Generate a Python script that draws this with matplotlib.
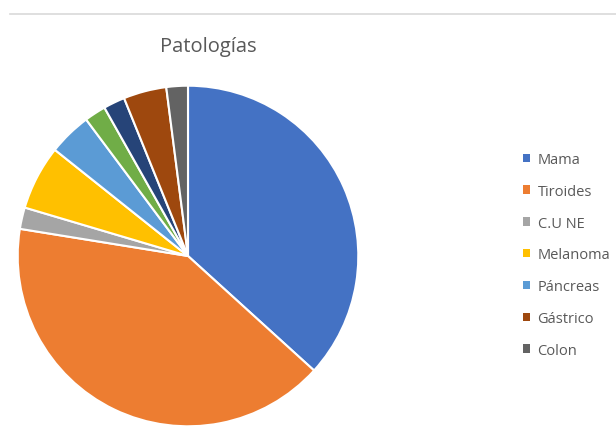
import matplotlib
matplotlib.use("Agg")
import matplotlib.pyplot as plt
from matplotlib.patches import Patch
from matplotlib.lines import Line2D

categories = ["Mama", "Tiroides", "C.U NE", "Melanoma", "Páncreas", "", "", "Gástrico", "Colon"]
values = [18, 20, 1, 3, 2, 1, 1, 2, 1]
colors = ["#4472C4", "#ED7D31", "#A5A5A5", "#FFC000", "#5B9BD5", "#70AD47", "#264478", "#9E480E", "#636363"]
legend_labels = ["Mama", "Tiroides", "C.U NE", "Melanoma", "Páncreas", "Gástrico", "Colon"]

plt.rcParams['font.family'] = ['Open Sans', 'DejaVu Sans']
W, H = 616, 435
fig = plt.figure(figsize=(W / 100, H / 100), dpi=100)

cx, cy, r = 188, 257, 172
ax = fig.add_axes([(cx - r) / W, (H - cy - r) / H, 2 * r / W, 2 * r / H])
ax.pie(values, colors=colors, startangle=90, counterclock=False,
       wedgeprops=dict(edgecolor="white", linewidth=1.5))
ax.set_xlim(-1.01, 1.01)
ax.set_ylim(-1.01, 1.01)
ax.set_aspect("equal")
ax.axis("off")

fig.add_artist(Line2D([10 / W, 1], [1 - 15 / H, 1 - 15 / H], color="#D9D9D9", linewidth=1.2))

fig.text(208 / W, 1 - 47 / H, "Patologías", ha="center", va="center", fontsize=14.5, color="#595959")

handles = []
for lab in legend_labels:
    c = colors[categories.index(lab)]
    handles.append(Patch(facecolor=c, edgecolor="none", label=lab))
leg = fig.legend(handles=handles, loc="upper left", bbox_to_anchor=(523 / W, 1 - 153 / H),
                 frameon=False, fontsize=10.5, labelcolor="#595959",
                 handlelength=0.5, handleheight=0.5, handletextpad=0.5,
                 labelspacing=1.15, borderaxespad=0, borderpad=0)

fig.savefig("out.png", dpi=100, facecolor="white")
